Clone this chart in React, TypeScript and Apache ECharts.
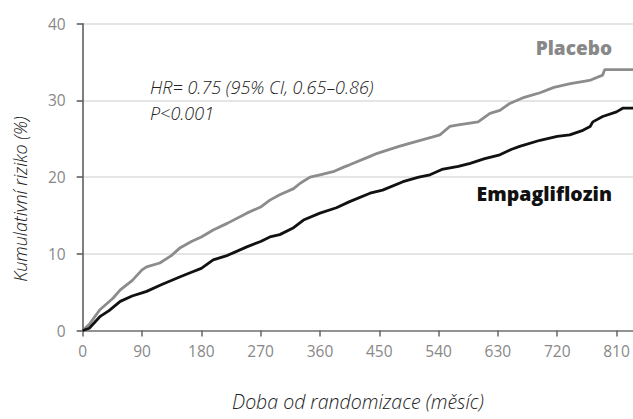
import React, { useEffect, useRef } from "react";
import * as echarts from "echarts";

// Data (day, cumulative risk %)
const placeboDays = [0, 10, 26, 46, 57, 75, 90, 97, 117, 135, 148, 165, 180, 198, 220, 249, 270, 284, 299, 320, 330, 345, 360, 380, 396, 405, 436, 447, 480, 496, 530, 542, 557, 570, 600, 618, 633, 648, 670, 694, 715, 740, 769, 789, 792, 835];
const placeboRisk = [0, 0.8, 2.7, 4.2, 5.3, 6.5, 7.9, 8.3, 8.8, 9.8, 10.8, 11.6, 12.2, 13.1, 14.0, 15.3, 16.1, 17.0, 17.7, 18.5, 19.2, 20.0, 20.3, 20.7, 21.3, 21.6, 22.7, 23.1, 24.0, 24.4, 25.2, 25.5, 26.6, 26.8, 27.2, 28.3, 28.7, 29.6, 30.4, 31.0, 31.7, 32.2, 32.6, 33.3, 34.0, 34.0];

const empaDays = [0, 10, 26, 40, 57, 75, 90, 97, 120, 148, 165, 180, 198, 220, 249, 270, 284, 299, 320, 335, 360, 385, 405, 436, 455, 486, 510, 527, 545, 570, 588, 610, 633, 650, 663, 694, 720, 739, 759, 770, 774, 789, 810, 820, 835];
const empaRisk = [0, 0.3, 1.8, 2.6, 3.8, 4.5, 4.9, 5.1, 6.0, 7.0, 7.6, 8.1, 9.2, 9.8, 10.9, 11.6, 12.2, 12.5, 13.4, 14.4, 15.3, 16.0, 16.8, 17.9, 18.3, 19.4, 20.0, 20.3, 21.0, 21.4, 21.8, 22.4, 22.9, 23.6, 24.0, 24.8, 25.3, 25.5, 26.1, 26.6, 27.2, 27.9, 28.5, 29.0, 29.0];

const xTicks = [0, 90, 180, 270, 360, 450, 540, 630, 720, 810];
const yTicks = [0, 10, 20, 30, 40];

const seriesNames = ["Placebo", "Empagliflozin"];
const xAxisName = "Doba od randomizace (měsíc)";
const yAxisName = "Kumulativní riziko (%)";
const hrText = "HR= 0.75 (95% CI, 0.65–0.86)";
const pText = "P<0.001";

export default function App() {
  const ref = useRef<HTMLDivElement>(null);
  useEffect(() => {
    if (!ref.current) return;
    const chart = echarts.init(ref.current, null, { renderer: "svg" });
    const font = "'Open Sans', 'Noto Sans', sans-serif";
    const zip = (a: number[], b: number[]) => a.map((d, i) => [d, b[i]]);
    const italic = { fontFamily: font, fontStyle: "italic", fontWeight: 300 };
    chart.setOption({
      animation: false,
      backgroundColor: "#fff",
      grid: { left: 82.7, right: 0, top: 23.7, bottom: 88.5, containLabel: false },
      xAxis: {
        type: "value",
        min: 0,
        max: 835,
        interval: 90,
        name: xAxisName,
        nameLocation: "middle",
        nameGap: 61,
        nameTextStyle: { ...italic, fontSize: 19.5, color: "#222" },
        axisLine: { show: true, lineStyle: { color: "#777", width: 1.5 } },
        axisTick: { show: true, length: 6, lineStyle: { color: "#666", width: 1.5 }, customValues: xTicks },
        axisLabel: { fontFamily: font, fontSize: 15.5, color: "#888", margin: 12, customValues: xTicks },
        splitLine: { show: false },
      },
      yAxis: {
        type: "value",
        min: 0,
        max: 40,
        interval: 10,
        axisLine: { show: true, lineStyle: { color: "#555", width: 1.5 } },
        axisTick: { show: true, length: 6, lineStyle: { color: "#555", width: 1.5 }, customValues: yTicks },
        axisLabel: { fontFamily: font, fontSize: 15.5, color: "#888", margin: 17, customValues: yTicks },
        splitLine: { show: true, lineStyle: { color: "#ddd", width: 1.5 } },
      },
      series: [
        {
          name: seriesNames[0],
          type: "line",
          symbol: "none",
          data: zip(placeboDays, placeboRisk),
          lineStyle: { color: "#8c8c8c", width: 2.8 },
          z: 3,
        },
        {
          name: seriesNames[1],
          type: "line",
          symbol: "none",
          data: zip(empaDays, empaRisk),
          lineStyle: { color: "#111", width: 2.8 },
          z: 4,
        },
      ],
      graphic: [
        {
          type: "text",
          x: 20,
          y: 199,
          rotation: Math.PI / 2,
          style: { text: yAxisName, ...italic, fontSize: 18, fill: "#222", align: "center", verticalAlign: "middle" },
        },
        {
          type: "text",
          left: 150,
          top: 78,
          style: { text: hrText, ...italic, fontSize: 18, fill: "#222" },
        },
        {
          type: "text",
          left: 150,
          top: 104,
          style: { text: pText, ...italic, fontSize: 18, fill: "#222" },
        },
        {
          type: "text",
          right: 21,
          top: 38,
          style: { text: seriesNames[0], fontFamily: font, fontWeight: 800, fontSize: 19, fill: "#888" },
        },
        {
          type: "text",
          right: 21,
          top: 183,
          style: { text: seriesNames[1], fontFamily: font, fontWeight: 800, fontSize: 19.5, fill: "#111" },
        },
      ],
    });
    return () => chart.dispose();
  }, []);
  return (
    <div
      ref={ref}
      style={{ position: "fixed", left: 0, top: 0, width: 633, height: 419 }}
    />
  );
}
